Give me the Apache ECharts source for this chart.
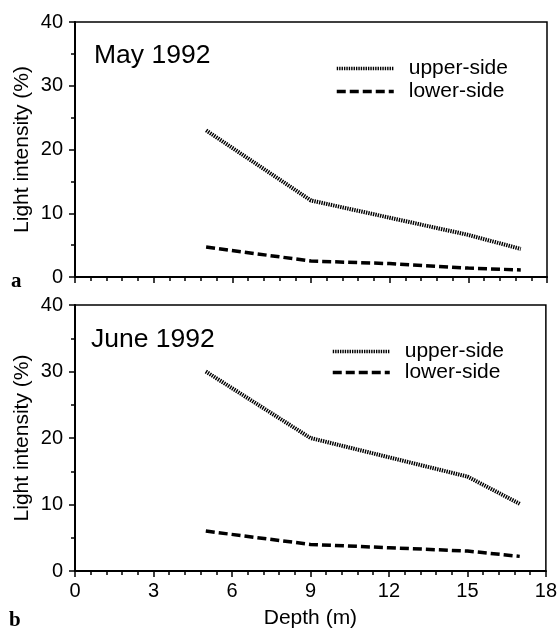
<!DOCTYPE html>
<html>
<head>
<meta charset="utf-8">
<script src="https://cdn.jsdelivr.net/npm/echarts@6/dist/echarts.min.js"></script>
<style>html,body{margin:0;padding:0;background:#fff}#c{width:560px;height:630px}</style>
</head>
<body>
<div id="c"></div>
<script>
const depths = [5, 9, 12, 15, 17];
const mayUpper = [23, 12, 9.3, 6.6, 4.4];
const mayLower = [4.7, 2.5, 2.1, 1.4, 1.1];
const juneUpper = [30, 20, 17.1, 14.2, 10.1];
const juneLower = [6.0, 4.0, 3.5, 3.0, 2.2];
const xTicks = [0, 3, 6, 9, 12, 15, 18];
const yTicks = [0, 10, 20, 30, 40];
const panelTitles = ['May 1992', 'June 1992'];
const panelLetters = ['a', 'b'];
const seriesNames = ['upper-side', 'lower-side'];

const FONT = 'Liberation Sans';
const chart = echarts.init(document.getElementById('c'));

function pairs(xs, ys) { return xs.map((x, i) => [x, ys[i]]); }

const upperStyle = { color: '#000', width: 4, type: [1.4, 1] };
const lowerStyle = { color: '#000', width: 3.5, type: [9, 4] };

function xAxis(gi, showLabels) {
  return {
    type: 'value', gridIndex: gi, min: 0, max: 18, interval: 3,
    axisLine: { show: true, onZero: false, lineStyle: { color: '#000', width: 2 } },
    axisTick: { show: true, inside: false, length: 6, lineStyle: { color: '#000', width: 1.5 } },
    minorTick: { show: true, splitNumber: 5, length: 4, lineStyle: { color: '#000', width: 1.5 } },
    splitLine: { show: false },
    axisLabel: { show: showLabels, color: '#000', fontFamily: FONT, fontSize: 20, margin: 10 },
    name: showLabels ? 'Depth (m)' : '', nameLocation: 'middle', nameGap: 37,
    nameTextStyle: { color: '#000', fontFamily: FONT, fontSize: 21 }
  };
}
function yAxis(gi) {
  return {
    type: 'value', gridIndex: gi, min: 0, max: 40, interval: 10,
    axisLine: { show: true, onZero: false, lineStyle: { color: '#000', width: 2 } },
    axisTick: { show: true, inside: false, length: 6, lineStyle: { color: '#000', width: 1.5 } },
    minorTick: { show: true, splitNumber: 2, length: 4, lineStyle: { color: '#000', width: 1.5 } },
    splitLine: { show: false },
    axisLabel: { color: '#000', fontFamily: FONT, fontSize: 20, margin: 12 },
    name: 'Light intensity (%)', nameLocation: 'middle', nameGap: 42, nameMoveOverlap: false,
    nameTextStyle: { color: '#000', fontFamily: FONT, fontSize: 21 }
  };
}

function legend(left, top, gap) {
  return {
    left: left, top: top, orient: 'vertical', itemWidth: 57, itemHeight: 14, itemGap: gap, padding: 0,
    data: seriesNames, selectedMode: false,
    itemStyle: { opacity: 0 },
    lineStyle: { width: 3.5, color: '#000' },
    textStyle: { color: '#000', fontFamily: FONT, fontSize: 21, lineHeight: 21, padding: [0, 0, 0, 10] }
  };
}

const option = {
  backgroundColor: '#fff',
  animation: false,
  grid: [
    { left: 75, right: 13, top: 22, height: 255, show: true, borderColor: '#000', borderWidth: 1.5, backgroundColor: 'transparent' },
    { left: 75, right: 13, top: 305, height: 266, show: true, borderColor: '#000', borderWidth: 1.5, backgroundColor: 'transparent' }
  ],
  xAxis: [xAxis(0, false), xAxis(1, true)],
  yAxis: [yAxis(0), yAxis(1)],
  title: [
    { text: panelTitles[0], left: 94, top: 42, textStyle: { color: '#000', fontFamily: FONT, fontSize: 26.5, fontWeight: 'normal' }, padding: 0 },
    { text: panelTitles[1], left: 91, top: 326, textStyle: { color: '#000', fontFamily: FONT, fontSize: 26.5, fontWeight: 'normal' }, padding: 0 },
    { text: panelLetters[0], left: 11, top: 271, textStyle: { color: '#000', fontFamily: 'Liberation Serif', fontSize: 21, fontWeight: 'bold' }, padding: 0 },
    { text: panelLetters[1], left: 9, top: 610, textStyle: { color: '#000', fontFamily: 'Liberation Serif', fontSize: 21, fontWeight: 'bold' }, padding: 0 }
  ],
  legend: [legend(335, 58, 2), legend(331, 341, 0)],
  series: [
    { name: seriesNames[0], type: 'line', xAxisIndex: 0, yAxisIndex: 0, data: pairs(depths, mayUpper), symbol: 'none', lineStyle: upperStyle, itemStyle: { color: '#000' } },
    { name: seriesNames[1], type: 'line', xAxisIndex: 0, yAxisIndex: 0, data: pairs(depths, mayLower), symbol: 'none', lineStyle: lowerStyle, itemStyle: { color: '#000' } },
    { name: seriesNames[0], type: 'line', xAxisIndex: 1, yAxisIndex: 1, data: pairs(depths, juneUpper), symbol: 'none', lineStyle: upperStyle, itemStyle: { color: '#000' } },
    { name: seriesNames[1], type: 'line', xAxisIndex: 1, yAxisIndex: 1, data: pairs(depths, juneLower), symbol: 'none', lineStyle: lowerStyle, itemStyle: { color: '#000' } }
  ]
};
chart.setOption(option);
</script>
</body>
</html>
